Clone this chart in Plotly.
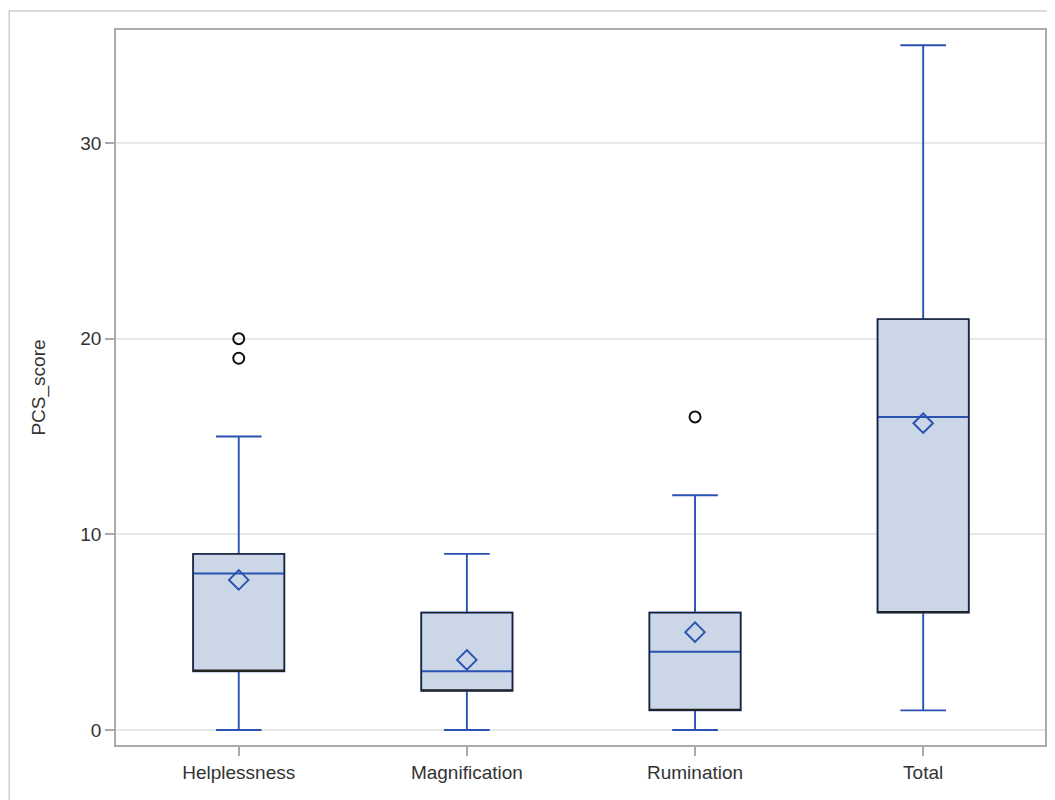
import plotly.graph_objects as go

categories = ["Helplessness", "Magnification", "Rumination", "Total"]
q1 = [3, 2, 1, 6]
median = [8, 3, 4, 16]
q3 = [9, 6, 6, 21]
lower_whisker = [0, 0, 0, 1]
upper_whisker = [15, 9, 12, 35]
means = [7.67, 3.58, 5.0, 15.68]
outlier_cat = ["Helplessness", "Helplessness", "Rumination"]
outlier_val = [19, 20, 16]
y_ticks = [0, 10, 20, 30]

BLUE = "#2a52b0"
FILL = "#cbd6e6"
FONT = "Liberation Sans"
TXT = "#333333"

fig = go.Figure()
# whiskers, caps, median (blue) + fill
fig.add_trace(go.Box(
    x=categories, q1=q1, median=median, q3=q3,
    lowerfence=lower_whisker, upperfence=upper_whisker,
    fillcolor=FILL, line=dict(color=BLUE, width=1.9),
    width=0.4, whiskerwidth=0.5, boxpoints=False, hoverinfo="skip",
    showlegend=False,
))
# black box outline on top
fig.add_trace(go.Box(
    x=categories, q1=q1, median=q1, q3=q3,
    lowerfence=q1, upperfence=q3,
    fillcolor="rgba(0,0,0,0)", line=dict(color="#222222", width=1.3),
    width=0.4, whiskerwidth=0.0, boxpoints=False, hoverinfo="skip",
    showlegend=False,
))
# means
fig.add_trace(go.Scatter(
    x=categories, y=means, mode="markers",
    marker=dict(symbol="diamond-open", size=15, color=BLUE, line=dict(width=2, color=BLUE)),
    showlegend=False,
))
# outliers
fig.add_trace(go.Scatter(
    x=outlier_cat, y=outlier_val, mode="markers",
    marker=dict(symbol="circle-open", size=11, color="#111111", line=dict(width=2, color="#111111")),
    showlegend=False,
))

W, H = 1047, 792
L, R, T, B = 108, 8, 22, 55
pw, ph = W - L - R, H - T - B
fig.update_layout(
    width=W, height=H,
    margin=dict(l=L, r=R, t=T, b=B),
    paper_bgcolor="white", plot_bgcolor="white",
    boxmode="overlay",
    font=dict(family=FONT, size=20, color=TXT),
    shapes=[dict(type="rect", xref="paper", yref="paper",
                 x0=(1 - L) / pw, x1=1.05, y0=-0.2, y1=(ph + T - 3) / ph,
                 line=dict(color="#d0d0d0", width=1.5), fillcolor="rgba(0,0,0,0)",
                 layer="below")],
)
fig.update_xaxes(
    type="category", categoryorder="array", categoryarray=categories,
    range=[-0.538, 3.534],
    showline=True, mirror=True, linecolor="#a8acb0", linewidth=1.5,
    ticks="outside", ticklen=9, tickcolor="#a8acb0", tickwidth=1.5,
    showgrid=False, zeroline=False,
    tickfont=dict(family=FONT, size=19, color=TXT),
)
fig.update_yaxes(
    range=[-0.77, 35.78],
    tickvals=y_ticks, ticktext=[str(v) for v in y_ticks],
    showline=True, mirror=True, linecolor="#a8acb0", linewidth=1.5,
    ticks="outside", ticklen=9, tickcolor="#a8acb0", tickwidth=1.5,
    showgrid=True, gridcolor="#e8e8e8", gridwidth=1.5, zeroline=False,
    title=dict(text="PCS_score", font=dict(family=FONT, size=19, color=TXT), standoff=30),
    tickfont=dict(family=FONT, size=19, color=TXT),
)

fig.write_html("out.html")
